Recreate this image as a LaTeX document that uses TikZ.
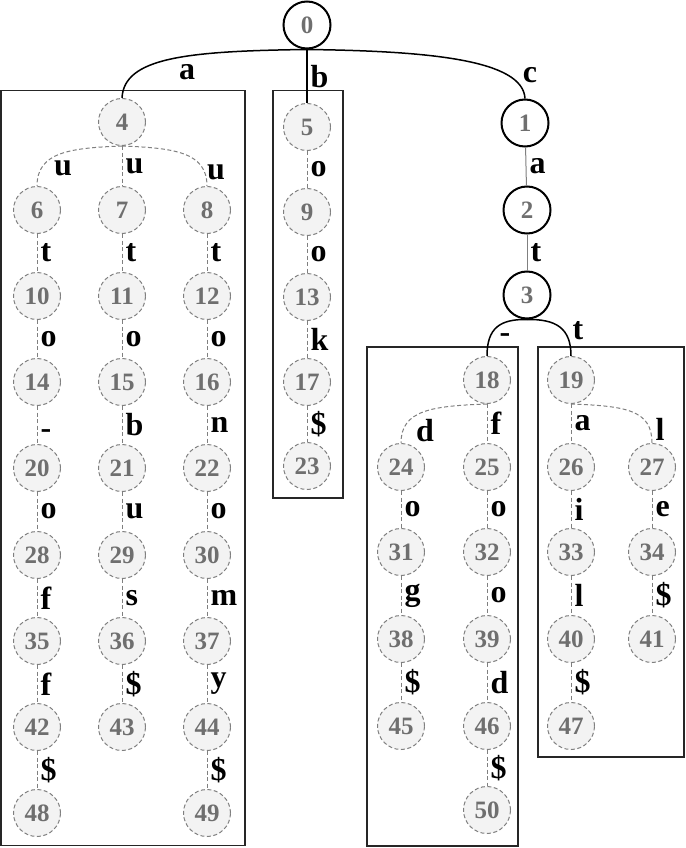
\documentclass[tikz,border=0pt]{standalone}
\usepackage{fontspec}
\setmainfont{Liberation Serif}
\definecolor{numgray}{HTML}{6F6F6F}
\definecolor{dashgray}{HTML}{7F7F7F}
\definecolor{nodefill}{HTML}{F3F3F3}
\tikzset{
  numfont/.style={font=\bfseries\fontsize{25}{25}\selectfont},
  snode/.style={circle, draw=black, line width=2pt, fill=white, minimum size=47pt, inner sep=0pt, numfont, text=numgray},
  dnode/.style={circle, draw=dashgray, line width=1pt, dash pattern=on 4pt off 2.5pt, fill=nodefill, minimum size=47pt, inner sep=0pt, numfont, text=numgray},
  dedge/.style={draw=dashgray, line width=1pt, dash pattern=on 4pt off 2.5pt},
  sedge/.style={draw=black, line width=1.5pt},
  gedge/.style={draw=gray, line width=1pt},
  lbl/.style={font=\bfseries\fontsize{32}{32}\selectfont, text=black, anchor=west, inner sep=1pt, xshift=2pt},
  flbl/.style={font=\bfseries\fontsize{32}{32}\selectfont, text=black, inner sep=0pt},
  frame/.style={draw=black!85, line width=1.5pt}
}
\begin{document}
\begin{tikzpicture}[x=1pt,y=-1pt]
\useasboundingbox (0,0) rectangle (685,848);
% boxes
\draw[frame] (1,90.5) rectangle (245,845.5);
\draw[frame] (273,90.5) rectangle (343,498);
\draw[frame] (367,347) rectangle (518,846);
\draw[frame] (538,347) rectangle (684,757);
% solid nodes
\node[snode] (n0) at (307,25) {0};
\node[snode] (n1) at (525,123) {1};
\node[snode] (n2) at (527,210) {2};
\node[snode] (n3) at (527,295) {3};
% dashed nodes
\node[dnode] (n4) at (122,122) {4};
\foreach \n/\x/\y in {6/37/210,7/122/210,8/207/210,
  10/37/296,11/122/296,12/207/296,
  14/37/382,15/122/382,16/207/382,
  20/37/468,21/122/468,22/207/468,
  28/37/555,29/122/555,30/207/555,
  35/37/641,36/122/641,37/207/641,
  42/37/727,43/122/727,44/207/727,
  48/37/813,49/207/813,
  5/307/127,9/307/212,13/307/297,17/307/382,23/307/466,
  18/487/380,19/571/380,
  24/401/467,25/487/467,26/571/467,27/652/467,
  31/401/552,32/487/552,33/571/552,34/652/552,
  38/401/639,39/487/639,40/571/639,41/652/639,
  45/401/726,46/487/726,47/571/726,
  50/487/810}
  {\node[dnode] (n\n) at (\x,\y) {\n};}
% root edges
\draw[sedge] (n4.north) .. controls (124,58) and (185,51) .. (n0.south);
\draw[sedge] (n0.south) .. controls (430,51) and (523,60) .. (n1.north);
\draw[sedge, line width=1.2pt] (n0) -- node[lbl] (l-0-5) {b} (n5);
\node[flbl] (l-0-4) at (187,72) {a};
\node[flbl] (l-0-1) at (530,75) {c};
\draw[gedge] (n1) -- node[lbl] (l-1-2) {a} (n2);
\draw[gedge] (n2) -- node[lbl] (l-2-3) {t} (n3);
\draw[sedge] (n3.south) .. controls (500,319) and (487,328) .. (n18.north);
\draw[sedge] (n3.south) .. controls (556,319) and (571,328) .. (n19.north);
\node[flbl] (l-3-18) at (505,338) {-};
\node[flbl] (l-3-19) at (578,331) {t};
% left subtree
\draw[dedge] (n4.south) .. controls (70,148) and (37,152) .. (n6.north);
\draw[dedge] (n4.south) .. controls (174,148) and (207,152) .. (n8.north);
\node[flbl] (l-4-6) at (63,168) {u};
\node[flbl] (l-4-8) at (216,172) {u};
\draw[dedge] (n4) -- node[lbl] (l-4-7) {u} (n7);
\foreach \a/\b/\t in {6/10/t,10/14/o,20/28/o,28/35/f,35/42/f,42/48/\$,
  7/11/t,11/15/o,15/21/b,21/29/u,29/36/s,36/43/\$,
  8/12/t,12/16/o,16/22/n,22/30/o,30/37/m,37/44/y,44/49/\$,
  5/9/o,9/13/o,13/17/k,17/23/\$,
  18/25/f,24/31/o,31/38/g,38/45/\$,25/32/o,32/39/o,39/46/d,46/50/\$,
  19/26/a,26/33/i,33/40/l,40/47/\$,27/34/e,34/41/\$}
  {\draw[dedge] (n\a) -- node[lbl] (l-\a-\b) {\t} (n\b);}
\draw[dedge] (n14) -- node[lbl, yshift=-9pt] (l-14-20) {-} (n20);
% right subtree curves
\draw[dedge] (n18.south) .. controls (432,406) and (401,410) .. (n24.north);
\node[flbl] (l-18-24) at (425,431) {d};
\draw[dedge] (n19.south) .. controls (626,406) and (652,410) .. (n27.north);
\node[flbl] (l-19-27) at (660,429) {l};
\end{tikzpicture}
\end{document}
